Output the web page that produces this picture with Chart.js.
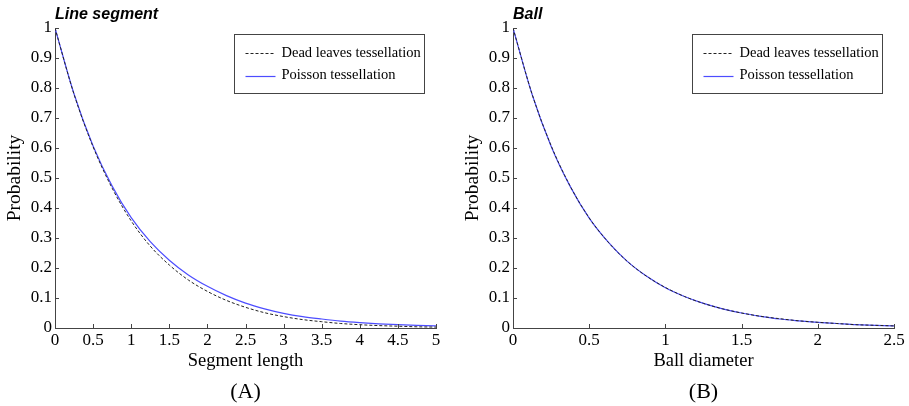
<!DOCTYPE html>
<html><head><meta charset="utf-8">
<script src="https://cdn.jsdelivr.net/npm/chart.js@4/dist/chart.umd.min.js"></script>
<style>
html,body{margin:0;padding:0;background:#fff;}
#wrap{position:relative;width:909px;height:406px;overflow:hidden;background:#fff;}
.panel{position:absolute;top:0;height:406px;}
#pa{left:0;width:455px;}
#pb{left:455px;width:454px;}
</style></head><body>
<div id="wrap">
  <div class="panel" id="pa"><canvas id="ca"></canvas></div>
  <div class="panel" id="pb"><canvas id="cb"></canvas></div>
</div>
<script>
// ---- data ----
const seriesNames = ['Dead leaves tessellation', 'Poisson tessellation'];

const segLength = [0,0.25,0.5,0.75,1,1.25,1.5,1.75,2,2.25,2.5,2.75,3,3.25,3.5,3.75,4,4.25,4.5,4.75,5];
const segDeadLeaves = [1.000,0.779,0.604,0.466,0.357,0.273,0.210,0.160,0.122,0.092,0.069,0.051,0.038,0.028,0.021,0.015,0.011,0.008,0.006,0.004,0.003];
const segPoisson    = [1.000,0.780,0.607,0.473,0.368,0.288,0.226,0.177,0.139,0.108,0.083,0.064,0.049,0.038,0.030,0.023,0.018,0.014,0.011,0.009,0.007];

const ballDiameter = [0,0.125,0.25,0.375,0.5,0.625,0.75,0.875,1,1.125,1.25,1.375,1.5,1.625,1.75,1.875,2,2.125,2.25,2.375,2.5];
const ballDeadLeaves = [1.000,0.780,0.608,0.473,0.367,0.286,0.222,0.173,0.135,0.105,0.082,0.064,0.050,0.039,0.031,0.024,0.019,0.015,0.011,0.009,0.007];
const ballPoisson    = [1.000,0.779,0.606,0.472,0.366,0.286,0.222,0.173,0.134,0.105,0.082,0.064,0.050,0.039,0.030,0.024,0.019,0.015,0.011,0.009,0.007];

const probTicks = [0,0.1,0.2,0.3,0.4,0.5,0.6,0.7,0.8,0.9,1];
const probLabels = ['0','0.1','0.2','0.3','0.4','0.5','0.6','0.7','0.8','0.9','1'];
const segTicks  = [0,0.5,1,1.5,2,2.5,3,3.5,4,4.5,5];
const segLabels = ['0','0.5','1','1.5','2','2.5','3','3.5','4','4.5','5'];
const ballTicks = [0,0.5,1,1.5,2,2.5];
const ballLabels = ['0','0.5','1','1.5','2','2.5'];

// ---- plugins ----
const AXIS = '#444';
const inwardTicks = {
  id: 'inwardTicks',
  afterDatasetsDraw(chart) {
    const ctx = chart.ctx, a = chart.chartArea;
    const xs = chart.scales.x, ys = chart.scales.y;
    ctx.save();
    ctx.strokeStyle = AXIS; ctx.lineWidth = 1;
    ctx.beginPath();
    xs.ticks.forEach(t => {
      const p = Math.round(xs.getPixelForValue(t.value)) + 0.5;
      ctx.moveTo(p, a.bottom); ctx.lineTo(p, a.bottom - 4);
    });
    ys.ticks.forEach(t => {
      const p = Math.round(ys.getPixelForValue(t.value)) + 0.5;
      ctx.moveTo(a.left, p); ctx.lineTo(a.left + 4, p);
    });
    ctx.stroke();
    ctx.restore();
  }
};
const panelText = {
  id: 'panelText',
  afterDraw(chart, args, opts) {
    const ctx = chart.ctx, a = chart.chartArea;
    ctx.save();
    ctx.fillStyle = '#000';
    ctx.textBaseline = 'middle';
    ctx.textAlign = 'left';
    ctx.font = 'italic bold 16px "Liberation Sans", Arial, sans-serif';
    ctx.fillText(opts.title, a.left, 15);
    ctx.textAlign = 'center';
    ctx.font = '22px "Liberation Serif", "Times New Roman", serif';
    ctx.fillText(opts.label, (a.left + a.right) / 2, 392);
    ctx.restore();
  }
};
const boxLegend = {
  id: 'boxLegend',
  afterDraw(chart, args, opts) {
    const ctx = chart.ctx, a = chart.chartArea;
    const w = 190, h = 59;
    const x0 = Math.round(a.right - opts.right - w) + 0.5, y0 = Math.round(a.top + 6) + 0.5;
    ctx.save();
    ctx.fillStyle = '#fff';
    ctx.fillRect(x0, y0, w, h);
    ctx.strokeStyle = AXIS; ctx.lineWidth = 1;
    ctx.strokeRect(x0, y0, w, h);
    ctx.font = '14.5px "Liberation Serif", "Times New Roman", serif';
    ctx.textBaseline = 'middle'; ctx.textAlign = 'left';
    chart.data.datasets.forEach((ds, i) => {
      const yy = y0 + 18.5 + i * 22.5;
      ctx.beginPath();
      ctx.strokeStyle = ds.borderColor; ctx.lineWidth = ds.borderWidth;
      ctx.setLineDash(ds.borderDash || []);
      ctx.moveTo(x0 + 11, Math.round(yy) + 0.5); ctx.lineTo(x0 + 41, Math.round(yy) + 0.5);
      ctx.stroke();
      ctx.setLineDash([]);
      ctx.fillStyle = '#000';
      ctx.fillText(ds.label, x0 + 47, yy);
    });
    ctx.restore();
  }
};

Chart.defaults.font.family = '"Liberation Serif", "Times New Roman", serif';
Chart.defaults.color = '#000';

function makeChart(id, xs, dead, pois, xTicks, xLabels, xMax, xTitle, title, label, yW, padRight, yTitlePad, legendRight) {
  return new Chart(document.getElementById(id), {
    type: 'line',
    data: {
      datasets: [
        { label: seriesNames[0], data: xs.map((x, i) => ({ x: x, y: dead[i] })),
          borderColor: '#222', borderWidth: 1, borderDash: [3, 2], pointRadius: 0, fill: false,
          cubicInterpolationMode: 'monotone' },
        { label: seriesNames[1], data: xs.map((x, i) => ({ x: x, y: pois[i] })),
          borderColor: '#4d4dff', borderWidth: 1.2, pointRadius: 0, fill: false,
          cubicInterpolationMode: 'monotone' }
      ]
    },
    options: {
      responsive: true, maintainAspectRatio: false, animation: false,
      layout: { padding: { top: 28, right: padRight, bottom: 0, left: 0 } },
      plugins: {
        legend: { display: false }, tooltip: { enabled: false },
        panelText: { title: title, label: label },
        boxLegend: { right: legendRight }
      },
      scales: {
        x: {
          type: 'linear', min: 0, max: xMax,
          afterBuildTicks: s => { s.ticks = xTicks.map(v => ({ value: v })); },
          afterFit: s => { s.height = 78; },
          grid: { drawOnChartArea: false, drawTicks: false },
          border: { color: AXIS, width: 1 },
          ticks: { padding: 2, color: '#000', font: { size: 17 }, maxRotation: 0, autoSkip: false,
                   callback: (v, i) => xLabels[i] },
          title: { display: true, text: xTitle, color: '#000', font: { size: 18.5 }, padding: { top: 0, bottom: 34 } }
        },
        y: {
          type: 'linear', min: 0, max: 1,
          afterBuildTicks: s => { s.ticks = probTicks.map(v => ({ value: v })); },
          afterFit: s => { s.width = yW; },
          grid: { drawOnChartArea: false, drawTicks: false },
          border: { color: AXIS, width: 1 },
          ticks: { padding: 3, color: '#000', font: { size: 17 }, autoSkip: false,
                   callback: (v, i) => probLabels[i] },
          title: { display: true, text: 'Probability', color: '#000', font: { size: 19.5 }, padding: { top: yTitlePad, bottom: 0 } }
        }
      }
    },
    plugins: [inwardTicks, panelText, boxLegend]
  });
}

makeChart('ca', segLength, segDeadLeaves, segPoisson, segTicks, segLabels, 5, 'Segment length', 'Line segment', '(A)', 55, 19, 3, 12);
makeChart('cb', ballDiameter, ballDeadLeaves, ballPoisson, ballTicks, ballLabels, 2.5, 'Ball diameter', 'Ball', '(B)', 58, 15, 6, 12);
</script>
</body></html>
